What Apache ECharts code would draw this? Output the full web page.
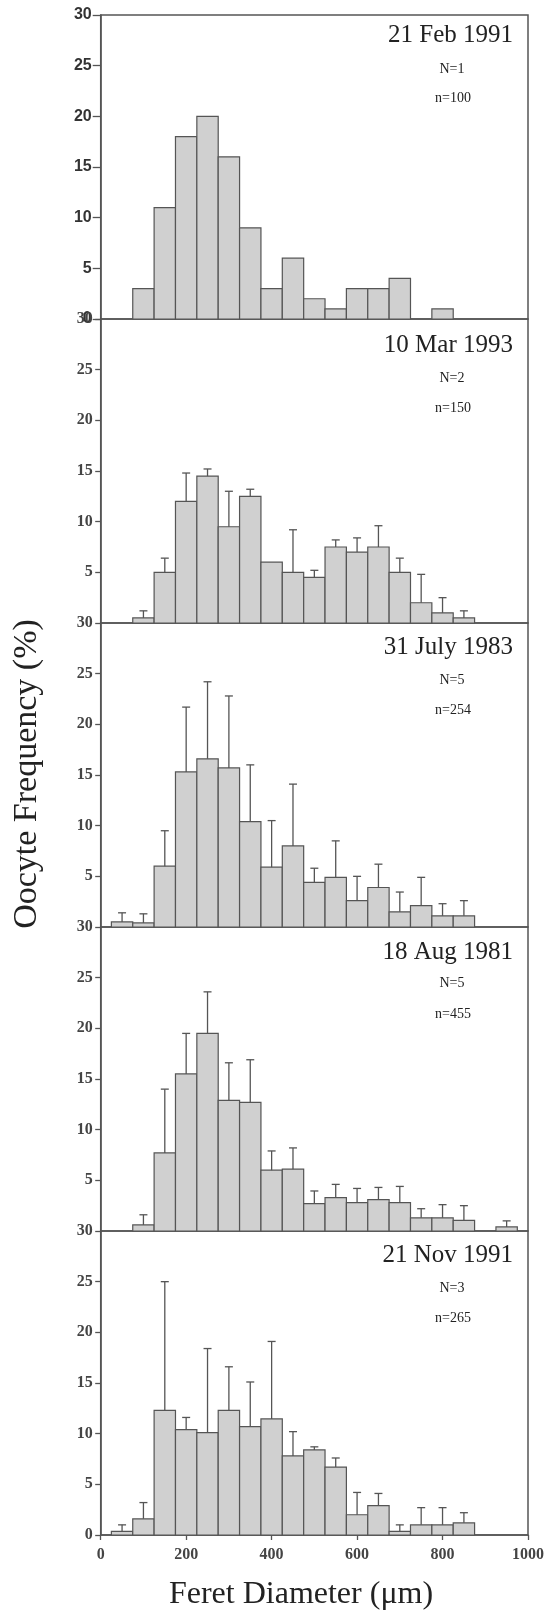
<!DOCTYPE html>
<html lang="en">
<head>
    <meta charset="UTF-8">
    <title>Oocyte size frequency</title>
    <script src="https://cdn.jsdelivr.net/npm/echarts@6.0.0/dist/echarts.min.js"></script>
    <style>
        html, body { margin: 0; padding: 0; background: #fff; }
        #container { width: 547px; height: 1611px; }
    </style>
</head>
<body>
<div id="container"></div>
<script>
    // bin centres (Feret diameter, um), 50 um wide bins
    var centers = [50, 100, 150, 200, 250, 300, 350, 400, 450, 500, 550, 600, 650, 700, 750, 800, 850, 900, 950];
    var binW = 50;

    var titles = ['21 Feb 1991', '10 Mar 1993', '31 July 1983', '18 Aug 1981', '21 Nov 1991'];
    var bigN = ['N=1', 'N=2', 'N=5', 'N=5', 'N=3'];
    var smallN = ['n=100', 'n=150', 'n=254', 'n=455', 'n=265'];

    // mean frequency (%) per bin, null = no bar
    var feb1991 = [null, 3, 11, 18, 20, 16, 9, 3, 6, 2, 1, 3, 3, 4, null, 1, null, null, null];
    var mar1993 = [null, 0.5, 5, 12, 14.5, 9.5, 12.5, 6, 5, 4.5, 7.5, 7, 7.5, 5, 2, 1, 0.5, null, null];
    var jul1983 = [0.5, 0.4, 6, 15.3, 16.6, 15.7, 10.4, 5.9, 8, 4.4, 4.9, 2.6, 3.9, 1.5, 2.1, 1.1, 1.1, null, null];
    var aug1981 = [null, 0.6, 7.7, 15.5, 19.5, 12.9, 12.7, 6, 6.1, 2.7, 3.3, 2.8, 3.1, 2.8, 1.3, 1.3, 1.05, null, 0.4];
    var nov1991 = [0.36, 1.6, 12.3, 10.4, 10.1, 12.3, 10.7, 11.45, 7.8, 8.4, 6.7, 2, 2.9, 0.36, 1, 1, 1.2, null, null];

    // top of the error bar (mean + SD), null = none drawn
    var feb1991Err = [null, null, null, null, null, null, null, null, null, null, null, null, null, null, null, null, null, null, null];
    var mar1993Err = [null, 1.2, 6.4, 14.8, 15.2, 13, 13.2, null, 9.2, 5.2, 8.2, 8.4, 9.6, 6.4, 4.8, 2.5, 1.2, null, null];
    var jul1983Err = [1.4, 1.3, 9.5, 21.7, 24.2, 22.8, 16, 10.5, 14.1, 5.8, 8.5, 5, 6.2, 3.45, 4.9, 2.3, 2.6, null, null];
    var aug1981Err = [null, 1.6, 14, 19.5, 23.6, 16.6, 16.9, 7.9, 8.2, 3.95, 4.6, 4.2, 4.3, 4.4, 2.2, 2.6, 2.5, null, 1.0];
    var nov1991Err = [1.0, 3.2, 25, 11.6, 18.4, 16.6, 15.1, 19.1, 10.2, 8.7, 7.6, 4.2, 4.1, 1.0, 2.7, 2.7, 2.2, null, null];

    var panels = [feb1991, mar1993, jul1983, aug1981, nov1991];
    var panelErr = [feb1991Err, mar1993Err, jul1983Err, aug1981Err, nov1991Err];

    var chart = echarts.init(document.getElementById('container'));

    var gridTop = 15, gridH = 304, gridLeft = 100.7, gridRight = 19;
    var serif = '"Liberation Serif", "Times New Roman", serif';
    var lineCol = '#555';

    function barItem(params, api) {
        var x = api.value(0), y = api.value(1);
        var p0 = api.coord([x - binW / 2, y]);
        var p1 = api.coord([x + binW / 2, 0]);
        return {
            type: 'rect',
            shape: {x: p0[0], y: p0[1], width: p1[0] - p0[0], height: p1[1] - p0[1]},
            style: {fill: '#d0d0d0', stroke: lineCol, lineWidth: 1.2}
        };
    }

    function errItem(params, api) {
        var x = api.value(0);
        var base = api.coord([x, api.value(1)]);
        var tip = api.coord([x, api.value(2)]);
        var st = {stroke: lineCol, lineWidth: 1.3};
        return {
            type: 'group',
            children: [
                {type: 'line', shape: {x1: base[0], y1: base[1], x2: tip[0], y2: tip[1]}, style: st},
                {type: 'line', shape: {x1: tip[0] - 4, y1: tip[1], x2: tip[0] + 4, y2: tip[1]}, style: st}
            ]
        };
    }

    var grids = [], xAxes = [], yAxes = [], series = [], graphics = [];
    // offsets of the annotation lines from each panel top
    var titleDy = [20, 26, 24, 25, 24];
    var nDy = [54, 59, 57, 56, 57];
    var smallDy = [83, 89, 87, 87, 87];

    for (var i = 0; i < 5; i++) {
        var panelTop = gridTop + i * gridH;
        var last = i === 4;
        grids.push({
            left: gridLeft, right: gridRight, top: panelTop, height: gridH,
            show: true, borderColor: lineCol, borderWidth: 1.5
        });
        xAxes.push({
            type: 'value', gridIndex: i, min: 0, max: 1000, interval: 200,
            axisLine: {show: last, lineStyle: {color: lineCol, width: 1.5}},
            axisTick: {show: last, length: 5, lineStyle: {color: lineCol, width: 1.3}},
            axisLabel: {
                show: last, margin: 12, fontFamily: serif, fontSize: 16, fontWeight: 'bold', color: '#444',
                formatter: function (v) { return String(v); }
            },
            splitLine: {show: false}
        });
        yAxes.push({
            type: 'value', gridIndex: i, min: 0, max: 30, interval: 5,
            axisLine: {show: true, lineStyle: {color: lineCol, width: 1.5}},
            axisTick: {show: true, length: i === 0 ? 8 : 5.5, lineStyle: {color: lineCol, width: 1.3}},
            axisLabel: {
                margin: i === 0 ? 9 : 8,
                fontFamily: i === 0 ? '"Liberation Sans", Arial, sans-serif' : serif,
                fontWeight: 'bold',
                fontSize: 16,
                color: i === 0 ? '#333' : '#444',
                showMinLabel: i === 0 || last
            },
            splitLine: {show: false}
        });

        var bars = [], errs = [];
        for (var k = 0; k < centers.length; k++) {
            if (panels[i][k] !== null) bars.push([centers[k], panels[i][k]]);
            if (panelErr[i][k] !== null) errs.push([centers[k], panels[i][k], panelErr[i][k]]);
        }
        series.push({
            type: 'custom', xAxisIndex: i, yAxisIndex: i,
            renderItem: barItem, data: bars, encode: {x: 0, y: 1}, z: 2
        });
        series.push({
            type: 'custom', xAxisIndex: i, yAxisIndex: i,
            renderItem: errItem, data: errs, encode: {x: 0, y: [1, 2]}, z: 3
        });

        graphics.push({
            type: 'text', x: 513, y: panelTop + titleDy[i],
            style: {text: titles[i], font: '25px ' + serif, fill: '#222', align: 'right', verticalAlign: 'middle'}
        });
        graphics.push({
            type: 'text', x: 452, y: panelTop + nDy[i],
            style: {text: bigN[i], font: '14px ' + serif, fill: '#222', align: 'center', verticalAlign: 'middle'}
        });
        graphics.push({
            type: 'text', x: 453, y: panelTop + smallDy[i],
            style: {text: smallN[i], font: '14px ' + serif, fill: '#222', align: 'center', verticalAlign: 'middle'}
        });
    }

    graphics.push({
        type: 'text', x: 301, y: 1595,
        style: {text: 'Feret Diameter (\u03bcm)', font: '32px ' + serif, fill: '#222', align: 'center', verticalAlign: 'middle'}
    });
    graphics.push({
        type: 'text', x: 27, y: 774, rotation: Math.PI / 2,
        style: {text: 'Oocyte Frequency (%)', font: '34px ' + serif, fill: '#222', align: 'center', verticalAlign: 'middle'}
    });

    var option = {
        animation: false,
        backgroundColor: '#fff',
        grid: grids,
        xAxis: xAxes,
        yAxis: yAxes,
        series: series,
        graphic: graphics
    };
    chart.setOption(option);

    window.onresize = function () {
        chart.resize();
    }
</script>
</body>
</html>
